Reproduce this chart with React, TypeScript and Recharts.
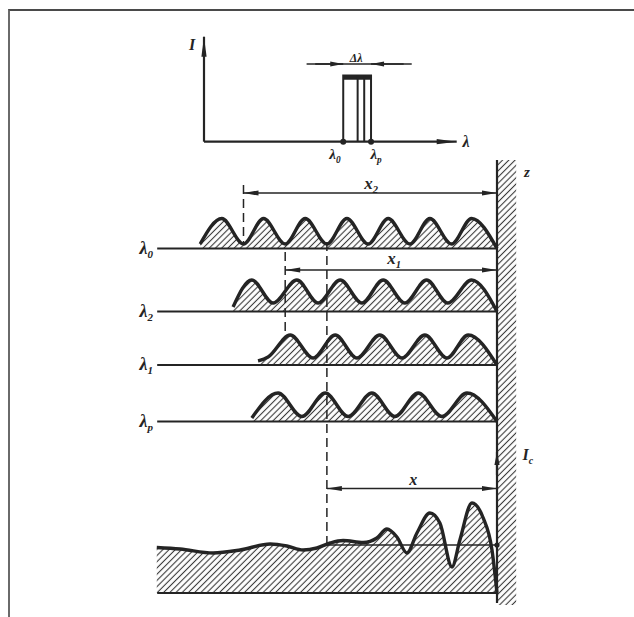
import {
  ComposedChart,
  Area,
  Line,
  XAxis,
  YAxis,
  ReferenceLine,
  ReferenceArea,
  ReferenceDot,
} from "recharts";

const INK = "#242424";
const FONT = "'Liberation Serif', 'DejaVu Serif', serif";

// ---- inset: spectrum I(λ) ----
const specLines = [55.1, 60.8, 63.4, 66.1]; // λ0 ... λp
const specTop = 6.3;
const specBand = [
  { w: 55.1, i: 0 },
  { w: 55.1, i: specTop },
  { w: 66.1, i: specTop },
  { w: 66.1, i: 0 },
];

// ---- main diagram: d = distance from mirror, y = vertical position ----
const rowNames = ["0", "2", "1", "p"];
const rowBases = [72.3, 59.7, 49.0, 37.7];
const sumBase = 3.4;
const icLevel = 13;

const row0X = [71.2, 66.0, 60.8, 56.0, 50.8, 46.0, 40.8, 36.0, 30.9, 26.1, 20.9, 16.1, 10.9, 6.1, 0];
const row0Y = [73.2, 78.3, 73.2, 78.3, 73.2, 78.3, 73.2, 78.3, 73.2, 78.3, 73.2, 78.3, 73.2, 78.3, 72.3];

const row2X = [63.3, 58.8, 53.7, 48.0, 42.9, 37.6, 32.4, 27.3, 22.1, 16.9, 11.8, 6.1, 0];
const row2Y = [60.6, 66.0, 61.4, 66.0, 61.4, 66.0, 61.4, 66.0, 61.4, 66.0, 61.4, 66.0, 59.7];

const row1X = [57.3, 54.9, 49.6, 44.1, 38.8, 33.6, 28.1, 22.8, 17.3, 12.0, 6.9, 0];
const row1Y = [49.8, 50.6, 55.0, 50.4, 55.0, 50.4, 55.0, 50.4, 55.0, 50.4, 55.0, 49.0];

const rowPX = [58.8, 52.5, 46.8, 41.2, 35.7, 30.0, 24.5, 18.9, 13.2, 7.2, 0];
const rowPY = [38.4, 43.4, 38.7, 43.4, 38.7, 43.4, 38.7, 43.4, 38.7, 43.4, 37.7];

const sumX = [81.6, 76.0, 68.1, 61.6, 54.4, 50.4, 46.5, 43.2, 40.0, 36.9, 32.1, 28.8, 26.4, 24.0, 21.6, 19.2, 16.1, 13.7, 10.8, 8.9, 6.0, 3.4, 1.2, 0];
const sumY = [12.5, 12.2, 11.4, 12.0, 13.2, 12.8, 12.0, 12.4, 13.4, 13.9, 13.5, 14.4, 16.2, 14.6, 11.4, 15.4, 19.4, 17.4, 8.6, 14.0, 21.4, 18.6, 12.0, 3.4];

// dashed markers (d, from y, to y) and distances x2, x1, x
const dashX = [60.8, 50.8, 40.8];
const dashFrom = [85, 71.6, 73.6];
const dashTo = [73.2, 55, 13.4];
const spanY = [83.4, 68, 24.3];

const series = [
  { key: "r0", xs: row0X, ys: row0Y, base: rowBases[0] },
  { key: "r2", xs: row2X, ys: row2Y, base: rowBases[1] },
  { key: "r1", xs: row1X, ys: row1Y, base: rowBases[2] },
  { key: "rp", xs: rowPX, ys: rowPY, base: rowBases[3] },
  { key: "sum", xs: sumX, ys: sumY, base: sumBase },
];

const waveData = series.flatMap((s) =>
  s.xs.map((d, i) => ({ d, [s.key]: s.ys[i] }))
);

function Arrow(p: any) {
  const { x1, y1, x2, y2, head = "end", len = 15, half = 2.6, sw = 1.6 } = p;
  const L = Math.hypot(x2 - x1, y2 - y1) || 1;
  const ux = (x2 - x1) / L;
  const uy = (y2 - y1) / L;
  const tip = (tx: number, ty: number, sx: number, sy: number) => {
    const bx = tx - sx * len;
    const by = ty - sy * len;
    return `${tx},${ty} ${bx - sy * half},${by + sx * half} ${bx + sy * half},${by - sx * half}`;
  };
  return (
    <g>
      <line x1={x1} y1={y1} x2={x2} y2={y2} stroke={INK} strokeWidth={sw} />
      {(head === "end" || head === "both") && <polygon points={tip(x2, y2, ux, uy)} fill={INK} />}
      {(head === "start" || head === "both") && <polygon points={tip(x1, y1, -ux, -uy)} fill={INK} />}
    </g>
  );
}

const label =
  (main: string, sub = "", size = 17, anchor = "middle") =>
  (p: any) =>
    (
      <text
        x={p.cx}
        y={p.cy}
        textAnchor={anchor}
        fontFamily={FONT}
        fontStyle="italic"
        fontWeight="bold"
        fontSize={size}
        fill={INK}
      >
        {main}
        {sub && (
          <tspan fontSize={size * 0.62} dy={4}>
            {sub}
          </tspan>
        )}
      </text>
    );

function RowTick(p: any) {
  const idx = rowBases.indexOf(p.payload.value);
  return (
    <text
      x={p.x}
      y={p.y + 5}
      textAnchor="end"
      fontFamily={FONT}
      fontStyle="italic"
      fontWeight="bold"
      fontSize={18}
      fill={INK}
    >
      λ
      <tspan fontSize={11} dy={4}>
        {rowNames[idx]}
      </tspan>
    </text>
  );
}

export default function App() {
  return (
    <div style={{ position: "absolute", left: 0, top: 0, width: 634, height: 617, background: "#fff" }}>
      <div
        style={{
          position: "absolute",
          left: 8,
          top: 9,
          width: 626,
          height: 608,
          boxSizing: "border-box",
          borderTop: "2px solid #4a4a4a",
          borderLeft: "2px solid #6a6a6a",
        }}
      />

      {/* main diagram */}
      <div style={{ position: "absolute", left: 0, top: 0 }}>
        <ComposedChart
          width={634}
          height={617}
          data={waveData}
          margin={{ top: 110, right: 95.3, bottom: 7, left: 125.1 }}
        >
          <defs>
            <pattern id="hatch" patternUnits="userSpaceOnUse" width="4.4" height="4.4" patternTransform="rotate(45)">
              <line x1="2.2" y1="0" x2="2.2" y2="4.4" stroke="#383838" strokeWidth="1.1" />
            </pattern>
          </defs>
          <XAxis type="number" dataKey="d" domain={[-10, 82]} reversed hide allowDataOverflow />
          <YAxis
            type="number"
            domain={[0, 100]}
            width={30}
            ticks={rowBases}
            interval={0}
            axisLine={false}
            tickLine={false}
            tickSize={0}
            tickMargin={2}
            tick={<RowTick />}
          />

          <ReferenceArea x1={0} x2={-4.6} y1={1} y2={90} fill="url(#hatch)" fillOpacity={1} stroke="none" />

          {series.map((s) => (
            <Area
              key={s.key}
              type="monotone"
              dataKey={s.key}
              baseValue={s.base}
              connectNulls
              stroke={INK}
              strokeWidth={3.4}
              fill="url(#hatch)"
              fillOpacity={1}
              dot={false}
              activeDot={false}
              isAnimationActive={false}
            />
          ))}

          {rowBases.concat([sumBase]).map((b) => (
            <ReferenceLine key={b} segment={[{ x: 81.5, y: b }, { x: 0, y: b }]} stroke={INK} strokeWidth={2.2} />
          ))}
          <ReferenceLine segment={[{ x: 0, y: 1.4 }, { x: 0, y: 90 }]} stroke={INK} strokeWidth={2.2} />
          <ReferenceLine segment={[{ x: dashX[2], y: icLevel }, { x: 0, y: icLevel }]} stroke={INK} strokeWidth={1.4} />

          {dashX.map((d, i) => (
            <ReferenceLine
              key={"dash" + i}
              segment={[{ x: d, y: dashFrom[i] }, { x: d, y: dashTo[i] }]}
              stroke={INK}
              strokeWidth={1.5}
              strokeDasharray="9 5"
            />
          ))}
          {dashX.map((d, i) => (
            <ReferenceLine
              key={"span" + i}
              segment={[{ x: d, y: spanY[i] }, { x: 0, y: spanY[i] }]}
              shape={(p: any) => <Arrow {...p} head="both" />}
            />
          ))}
          <ReferenceLine segment={[{ x: 0, y: 27 }, { x: 0, y: 31.6 }]} shape={(p: any) => <Arrow {...p} head="end" len={13} sw={2.2} />} />
          <ReferenceDot x={0} y={icLevel} r={2.6} fill={INK} stroke="none" />

          <ReferenceDot x={30.2} y={84.2} ifOverflow="visible" shape={label("x", "2")} />
          <ReferenceDot x={24.7} y={69.2} ifOverflow="visible" shape={label("x", "1")} />
          <ReferenceDot x={20.1} y={25} ifOverflow="visible" shape={label("x", "", 16)} />
          <ReferenceDot x={-7.2} y={86.6} ifOverflow="visible" shape={label("z", "", 15)} />
          <ReferenceDot x={-7.4} y={30} ifOverflow="visible" shape={label("I", "c", 16)} />
        </ComposedChart>
      </div>

      {/* inset spectrum */}
      <div style={{ position: "absolute", left: 0, top: 0 }}>
        <ComposedChart
          width={634}
          height={170}
          data={specBand}
          margin={{ top: 36.7, right: 177.3, bottom: 28.3, left: 204 }}
        >
          <XAxis type="number" dataKey="w" domain={[0, 100]} hide />
          <YAxis type="number" domain={[0, 10]} hide />
          <ReferenceLine segment={[{ x: 0, y: 0 }, { x: 100, y: 0 }]} shape={(p: any) => <Arrow {...p} head="end" len={20} sw={2.2} />} />
          <ReferenceLine segment={[{ x: 0, y: 0 }, { x: 0, y: 10 }]} shape={(p: any) => <Arrow {...p} head="end" len={20} sw={2.2} />} />
          <Line type="linear" dataKey="i" stroke={INK} strokeWidth={2} dot={false} activeDot={false} isAnimationActive={false} />
          {specLines.slice(1, 3).map((w) => (
            <ReferenceLine key={w} segment={[{ x: w, y: 0 }, { x: w, y: specTop }]} stroke={INK} strokeWidth={2} />
          ))}
          <ReferenceArea x1={specLines[0]} x2={specLines[3]} y1={specTop - 0.4} y2={specTop} fill={INK} fillOpacity={1} stroke="none" />
          <ReferenceLine segment={[{ x: 40.6, y: 7.4 }, { x: 82.2, y: 7.4 }]} stroke={INK} strokeWidth={1.6} />
          <ReferenceLine segment={[{ x: 44, y: 7.4 }, { x: specLines[0], y: 7.4 }]} shape={(p: any) => <Arrow {...p} head="end" len={13} />} />
          <ReferenceLine segment={[{ x: 79, y: 7.4 }, { x: specLines[3], y: 7.4 }]} shape={(p: any) => <Arrow {...p} head="end" len={13} />} />
          <ReferenceDot x={specLines[0]} y={0} r={3} fill={INK} stroke="none" />
          <ReferenceDot x={specLines[3]} y={0} r={3} fill={INK} stroke="none" />

          <ReferenceDot x={-4.75} y={8.73} ifOverflow="visible" shape={label("I", "", 16)} />
          <ReferenceDot x={103.7} y={-0.5} ifOverflow="visible" shape={label("λ", "", 16)} />
          <ReferenceDot x={60.2} y={7.6} ifOverflow="visible" shape={label("Δλ", "", 12)} />
          <ReferenceDot x={51.8} y={-1.66} ifOverflow="visible" shape={label("λ", "0", 15)} />
          <ReferenceDot x={68.1} y={-1.66} ifOverflow="visible" shape={label("λ", "p", 15)} />
        </ComposedChart>
      </div>
    </div>
  );
}
